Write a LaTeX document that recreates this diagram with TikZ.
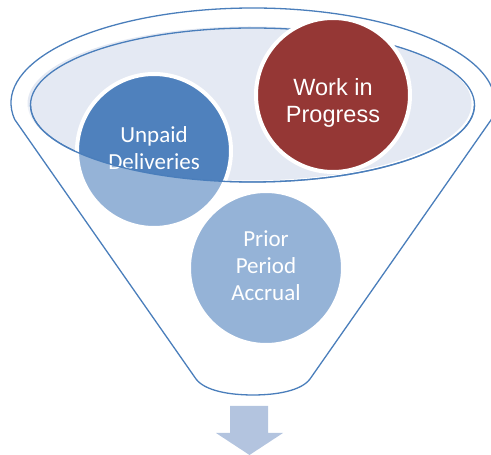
\documentclass[tikz,border=0pt]{standalone}
\usepackage{fontspec}
\newfontfamily\calibri{Carlito}
\newfontfamily\arial{Liberation Sans}
\definecolor{funnelline}{HTML}{4A7EBB}
\definecolor{openfill}{HTML}{E4E9F3}
\definecolor{wipred}{HTML}{953735}
\definecolor{delblue}{HTML}{4F81BD}
\definecolor{downarrow}{HTML}{B3C4DF}

\begin{document}
\begin{tikzpicture}[x=1pt, y=1pt,
	funnel/.style = {draw=funnelline, line width=1.3pt},
	bubble/.style = {circle, draw=white, line width=4pt, minimum size=154pt, inner sep=0pt},
	ctext/.style = {text=white, align=center, font=\calibri\fontsize{23}{27}\selectfont},
	atext/.style = {text=white, align=center, font=\arial\fontsize{23.5}{27}\selectfont}]
	\useasboundingbox (0,0) rectangle (491,455);
	% opening of the funnel
	\fill[openfill] (249.5,351.5) ellipse [x radius=222, y radius=77];
	\draw[funnel] (252.5,350) ellipse [x radius=222, y radius=77];
	% circles
	\node[bubble, fill=wipred] (wip) at (333,360) {};
	\node[atext] (wiptext) at ([yshift=-8pt]wip.center) {Work in\\Progress};
	\node[bubble, fill=delblue] (unpaid) at (154,304) {};
	\node[ctext] (unpaidtext) at ([yshift=3pt]unpaid.center) {Unpaid\\Deliveries};
	\node[bubble, fill=delblue] (prior) at (266,187) {};
	\node[ctext] (priortext) at ([yshift=2pt]prior.center) {Prior\\Period\\Accrual};
	% front of the funnel
	\fill[white, opacity=.4] (14.7,335.5) -- (196,76)
		.. controls (205,64) and (230,60) .. (253,60)
		.. controls (276,60) and (301,64) .. (310,76) -- (491.3,335.5) -- (474.5,350)
		arc [start angle=0, end angle=-180, x radius=222, y radius=77] -- cycle;
	\draw[funnel] (30.5,350) arc [start angle=180, end angle=360, x radius=222, y radius=77];
	\draw[funnel] (14.7,335.5) arc [start angle=190, end angle=-10, x radius=242, y radius=95]
		-- (310,76) .. controls (301,64) and (276,60) .. (253,60)
		.. controls (230,60) and (205,64) .. (196,76) -- cycle;
	% arrow
	\fill[downarrow] (230,49) -- (268,49) -- (268,22) -- (283,22) -- (249.5,0) -- (216,22) -- (230,22) -- cycle;
\end{tikzpicture}
\end{document}
